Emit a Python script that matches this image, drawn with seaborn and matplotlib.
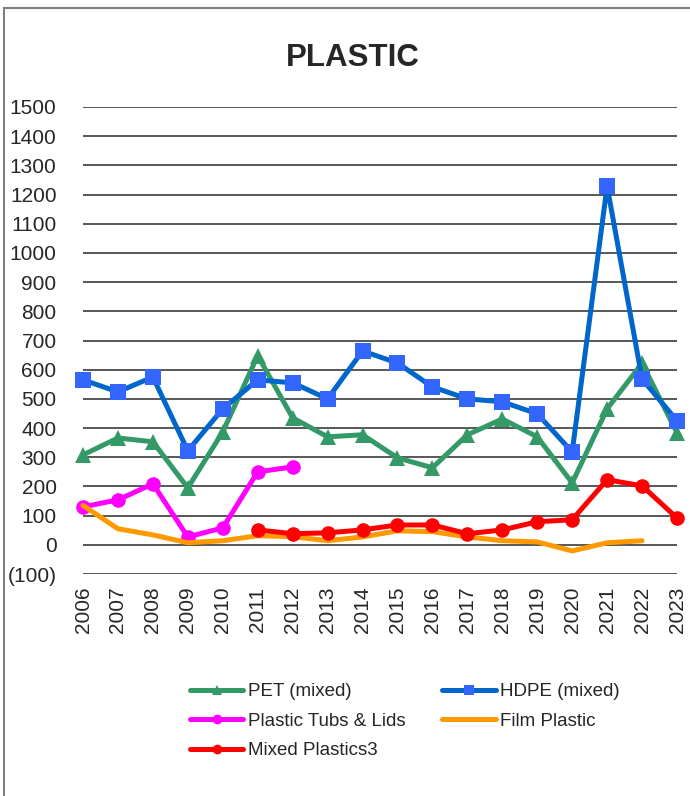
import numpy as np
import pandas as pd
import seaborn as sns
import matplotlib.pyplot as plt
from matplotlib.lines import Line2D
from matplotlib.patches import Rectangle
from matplotlib.ticker import FuncFormatter, MultipleLocator

years = list(range(2006, 2024))

pet = [308, 366, 353, 195, 387, 648, 435, 370, 377, 298, 264, 377, 431, 370, 212, 466, 622, 384]
hdpe = [565, 524, 575, 322, 466, 565, 555, 500, 664, 623, 541, 500, 490, 449, 318, 1229, 568, 425]
tubs_years = list(range(2006, 2013))
tubs = [130, 154, 209, 27, 58, 250, 267]
film_years = list(range(2006, 2023))
film = [135, 55, 34, 7, 14, 31, 28, 14, 27, 48, 45, 27, 14, 10, -21, 7, 14]
mixed_years = list(range(2011, 2024))
mixed = [51, 38, 41, 51, 68, 68, 38, 51, 79, 86, 223, 202, 92]

series = [
    ("PET (mixed)", years, pet, "#339966", "#339966", "^", 12),
    ("HDPE (mixed)", years, hdpe, "#0066CC", "#3366FF", "s", 11.5),
    ("Plastic Tubs & Lids", tubs_years, tubs, "#FF00FF", "#FF00FF", "o", 10.5),
    ("Film Plastic", film_years, film, "#FF9900", "#FF9900", None, 0),
    ("Mixed Plastics3", mixed_years, mixed, "#FF0000", "#FF0000", "o", 10.5),
]

sns.set_theme(style="white")
plt.rcParams['font.family'] = ['Liberation Sans', 'DejaVu Sans']

fig = plt.figure(figsize=(6.9, 7.96), dpi=100)
ax = fig.add_axes([83 / 690, 1 - 574 / 796, (677 - 83) / 690, (574 - 107) / 796])

for name, xs, ys, lc, mc, mk, ms in series:
    df = pd.DataFrame({"year": xs, "value": ys})
    sns.lineplot(data=df, x="year", y="value", ax=ax, color=lc, lw=3.6,
                 marker=mk, markersize=ms, markerfacecolor=mc, markeredgecolor=mc,
                 markeredgewidth=0, legend=False, clip_on=False)

ax.set_xlim(2006, 2023)
ax.set_ylim(-100, 1500)
ax.yaxis.set_major_locator(MultipleLocator(100))
ax.yaxis.set_major_formatter(FuncFormatter(lambda v, p: f"({abs(int(v))})" if v < 0 else f"{int(v)}"))
ax.set_xticks(years)
ax.set_xticklabels([str(y) for y in years], rotation=90)
ax.tick_params(axis='y', length=0, pad=19, labelsize=15)
ax.tick_params(axis='x', length=0, pad=9, labelsize=15)
ax.grid(axis='y', color='#2a2a2a', lw=1.1)
ax.set_axisbelow(True)
for s in ax.spines.values():
    s.set_visible(False)
ax.set_xlabel("")
ax.set_ylabel("")

fig.text(353 / 690, 1 - 58 / 796, "PLASTIC", ha='center', va='center',
         fontsize=22.5, weight='bold')

fig.add_artist(Rectangle((4 / 690, -0.1), 1.2, 1 - 7.5 / 796 + 0.1, fill=False,
                         edgecolor='#808080', lw=1.5, transform=fig.transFigure))

order = [0, 2, 4, 1, 3]
handles = []
for i in order:
    name, xs, ys, lc, mc, mk, ms = series[i]
    handles.append(Line2D([], [], color=lc, lw=3.6, marker=mk, markersize=7 if mk else 0,
                          markerfacecolor=mc, markeredgecolor=mc, markeredgewidth=0, label=name))
fig.legend(handles=handles, ncol=2, loc='upper left', bbox_to_anchor=(190 / 690, 1 - 683 / 796),
           frameon=False, fontsize=13.5, handlelength=2.85, handletextpad=0.25,
           labelspacing=0.66, columnspacing=1.95, borderpad=0, borderaxespad=0)

fig.savefig("out.png", dpi=100)
